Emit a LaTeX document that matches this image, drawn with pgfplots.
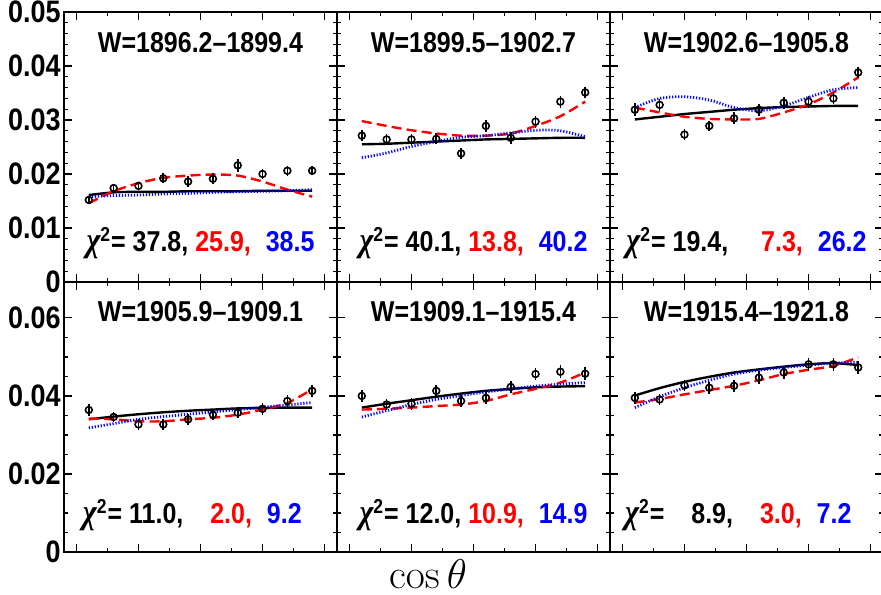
\documentclass[border=0pt]{standalone}
\usepackage[no-math]{fontspec}
\setmainfont{Liberation Sans}
\newfontfamily\greekfont{Liberation Serif}
\usepackage{graphicx}
\usepackage{pgfplots}
\usepackage{pgfplotstable}
\pgfplotsset{compat=1.18}
\usepgfplotslibrary{groupplots}

% columns: cos(theta), measured value, error, three fits (solid, dashed, dotted)
\pgfplotstableread{
x y e blk red blu
-0.9 0.0152 0.0008 0.0161 0.0146 0.0158
-0.7 0.0174 0.0008 0.0166 0.0168 0.0160
-0.5 0.0178 0.0008 0.0167 0.0183 0.0161
-0.3 0.0192 0.0009 0.0167 0.0193 0.0163
-0.1 0.0186 0.0010 0.0168 0.0197 0.0164
0.1 0.0191 0.0010 0.0168 0.0199 0.0166
0.3 0.0216 0.0012 0.0168 0.0197 0.0167
0.5 0.0200 0.0009 0.0169 0.0186 0.0168
0.7 0.0206 0.0009 0.0169 0.0171 0.0169
0.9 0.0206 0.0008 0.0169 0.0158 0.0171
}\binA
\pgfplotstableread{
x y e blk red blu
-0.9 0.0271 0.0010 0.0255 0.0298 0.0230
-0.7 0.0264 0.0010 0.0256 0.0289 0.0239
-0.5 0.0264 0.0010 0.0258 0.0281 0.0251
-0.3 0.0265 0.0010 0.0260 0.0275 0.0260
-0.1 0.0238 0.0010 0.0262 0.0271 0.0268
0.1 0.0289 0.0011 0.0264 0.0271 0.0271
0.3 0.0267 0.0011 0.0265 0.0275 0.0276
0.5 0.0297 0.0011 0.0266 0.0289 0.0281
0.7 0.0334 0.0011 0.0267 0.0307 0.0280
0.9 0.0351 0.0011 0.0267 0.0334 0.0269
}\binB
\pgfplotstableread{
x y e blk red blu
-0.9 0.0319 0.0012 0.0301 0.0323 0.0323
-0.7 0.0328 0.0011 0.0306 0.0314 0.0340
-0.5 0.0273 0.0010 0.0311 0.0306 0.0343
-0.3 0.0289 0.0010 0.0315 0.0302 0.0337
-0.1 0.0303 0.0011 0.0319 0.0301 0.0323
0.1 0.0319 0.0011 0.0322 0.0302 0.0317
0.3 0.0332 0.0011 0.0324 0.0314 0.0326
0.5 0.0334 0.0011 0.0325 0.0329 0.0342
0.7 0.0340 0.0011 0.0326 0.0351 0.0356
0.9 0.0388 0.0011 0.0326 0.0379 0.0360
}\binC
\pgfplotstableread{
x y e blk red blu
-0.9 0.0364 0.0015 0.0340 0.0342 0.0318
-0.7 0.0346 0.0014 0.0347 0.0340 0.0329
-0.5 0.0327 0.0014 0.0353 0.0335 0.0340
-0.3 0.0327 0.0014 0.0358 0.0335 0.0347
-0.1 0.0340 0.0014 0.0362 0.0340 0.0353
0.1 0.0352 0.0014 0.0365 0.0344 0.0359
0.3 0.0357 0.0014 0.0368 0.0352 0.0365
0.5 0.0367 0.0015 0.0369 0.0365 0.0371
0.7 0.0387 0.0015 0.0370 0.0382 0.0377
0.9 0.0413 0.0015 0.0370 0.0417 0.0383
}\binD
\pgfplotstableread{
x y e blk red blu
-0.9 0.0400 0.0015 0.0370 0.0365 0.0346
-0.7 0.0378 0.0015 0.0380 0.0367 0.0362
-0.5 0.0380 0.0015 0.0389 0.0370 0.0378
-0.3 0.0413 0.0015 0.0398 0.0374 0.0391
-0.1 0.0387 0.0015 0.0406 0.0378 0.0401
0.1 0.0395 0.0015 0.0413 0.0387 0.0410
0.3 0.0423 0.0015 0.0418 0.0404 0.0418
0.5 0.0456 0.0016 0.0422 0.0418 0.0425
0.7 0.0462 0.0016 0.0424 0.0434 0.0430
0.9 0.0457 0.0016 0.0425 0.0460 0.0434
}\binE
\pgfplotstableread{
x y e blk red blu
-0.9 0.0395 0.0015 0.0401 0.0383 0.0370
-0.7 0.0391 0.0015 0.0420 0.0392 0.0398
-0.5 0.0427 0.0015 0.0436 0.0404 0.0421
-0.3 0.0421 0.0015 0.0449 0.0415 0.0440
-0.1 0.0426 0.0015 0.0460 0.0426 0.0456
0.1 0.0447 0.0016 0.0468 0.0440 0.0466
0.3 0.0460 0.0016 0.0475 0.0456 0.0473
0.5 0.0481 0.0016 0.0481 0.0467 0.0479
0.7 0.0481 0.0016 0.0484 0.0477 0.0484
0.9 0.0473 0.0016 0.0479 0.0499 0.0486
}\binF

\newcommand{\lbl}{\fontsize{12.5}{14}\selectfont\bfseries}
\newcommand{\tall}[1]{\scalebox{1}[1.15]{#1}}
\newcommand{\chisq}{{\greekfont\itshape\fontsize{15}{15}\selectfont χ}\textsuperscript{2}=}

\pgfplotsset{
  panel/.style={
    scale only axis, width=136.5pt, height=135pt,
    xmin=-1.1, xmax=1.1,
    xtick={-1,-0.5,0,0.5,1}, minor x tick num=1, xticklabels={},
    tick align=inside, xtick pos=both, ytick pos=both,
    major tick length=4pt, minor tick length=2pt,
    every tick/.style={black, line width=0.6pt},
    axis line style={line width=1.2pt},
    scaled y ticks=false,
    /pgf/number format/assume math mode=true,
    yticklabel style={font=\fontsize{13.5}{15}\selectfont\bfseries, inner sep=1.5pt},
    yticklabel={\tall{\pgfmathprintnumber[fixed,precision=2]{\tick}}},
    clip=false,
  },
  toprow/.style={ymin=0, ymax=0.05, ytick={0,0.01,0.02,0.03,0.04,0.05}, minor y tick num=4},
  botrow/.style={ymin=0, ymax=0.0692, ytick={0,0.02,0.04,0.06}, minor y tick num=3},
  fitA/.style={black, line width=1.2pt, smooth},
  fitB/.style={red, line width=1.2pt, smooth, dash pattern=on 5pt off 2.6pt},
  fitC/.style={blue, line width=1.4pt, smooth, dash pattern=on 0.6pt off 0.9pt},
  meas/.style={black, only marks, mark=o, mark size=1.7pt,
    mark options={line width=0.8pt, fill=white, solid},
    error bars/.cd, y dir=both, y explicit,
    error bar style={line width=0.8pt}, error mark=none},
}

% fits and data of one W bin
\newcommand{\bin}[1]{%
  \addplot[fitA] table[x=x, y=blk] {#1};
  \addplot[fitB] table[x=x, y=red] {#1};
  \addplot[fitC] table[x=x, y=blu] {#1};
  \addplot[meas] table[x=x, y=y, y error=e] {#1};
}

\begin{document}
\begin{tikzpicture}
\begin{groupplot}[
  group style={group size=3 by 2, horizontal sep=0pt, vertical sep=0pt,
    yticklabels at=edge left},
  panel]

\nextgroupplot[toprow]
\coordinate (tl) at (rel axis cs:0,1);
\bin{\binA}
\node[anchor=base, font=\lbl] at (rel axis cs:0.5,0.849) {\tall{W=1896.2\textendash1899.4}};
\node[anchor=base, font=\lbl] at (rel axis cs:0.5,0.114)
  {\tall{\chisq\ 37.8, \textcolor{red}{25.9,}\hspace{4pt} \textcolor{blue}{38.5}}};

\nextgroupplot[toprow]
\bin{\binB}
\node[anchor=base, font=\lbl] at (rel axis cs:0.5,0.849) {\tall{W=1899.5\textendash1902.7}};
\node[anchor=base, font=\lbl] at (rel axis cs:0.5,0.114)
  {\tall{\chisq\ 40.1, \textcolor{red}{13.8,}\hspace{4pt} \textcolor{blue}{40.2}}};

\nextgroupplot[toprow]
\bin{\binC}
\node[anchor=base, font=\lbl] at (rel axis cs:0.5,0.849) {\tall{W=1902.6\textendash1905.8}};
\node[anchor=base, font=\lbl] at (rel axis cs:0.5,0.114)
  {\tall{\chisq\ 19.4,\hspace{13pt} \textcolor{red}{7.3,}\hspace{4pt} \textcolor{blue}{26.2}}};

\nextgroupplot[botrow]
\bin{\binD}
\node[anchor=base, font=\lbl] at (rel axis cs:0.5,0.852) {\tall{W=1905.9\textendash1909.1}};
\node[anchor=base, font=\lbl] at (rel axis cs:0.47,0.107)
  {\tall{\chisq\ 11.0,\hspace{10pt} \textcolor{red}{2.0,}\hspace{4pt} \textcolor{blue}{9.2}}};

\nextgroupplot[botrow]
\bin{\binE}
\node[anchor=base, font=\lbl] at (rel axis cs:0.5,0.852) {\tall{W=1909.1\textendash1915.4}};
\node[anchor=base, font=\lbl] at (rel axis cs:0.5,0.107)
  {\tall{\chisq\ 12.0, \textcolor{red}{10.9,}\hspace{4pt} \textcolor{blue}{14.9}}};

\nextgroupplot[botrow]
\bin{\binF}
\node[anchor=base, font=\lbl] at (rel axis cs:0.5,0.852) {\tall{W=1915.4\textendash1921.8}};
\node[anchor=base, font=\lbl] at (rel axis cs:0.47,0.107)
  {\tall{\chisq\hspace{10pt} 8.9,\hspace{10pt} \textcolor{red}{3.0,}\hspace{4pt} \textcolor{blue}{7.2}}};
\end{groupplot}

\node[anchor=base, font=\fontsize{20}{22}\selectfont] at ([shift={(182pt,-288pt)}]tl) {$\cos\theta$};

\pgfresetboundingbox
\path[use as bounding box] ([shift={(-32pt,-291pt)}]tl) rectangle ([shift={(408.5pt,6pt)}]tl);
\end{tikzpicture}
\end{document}
